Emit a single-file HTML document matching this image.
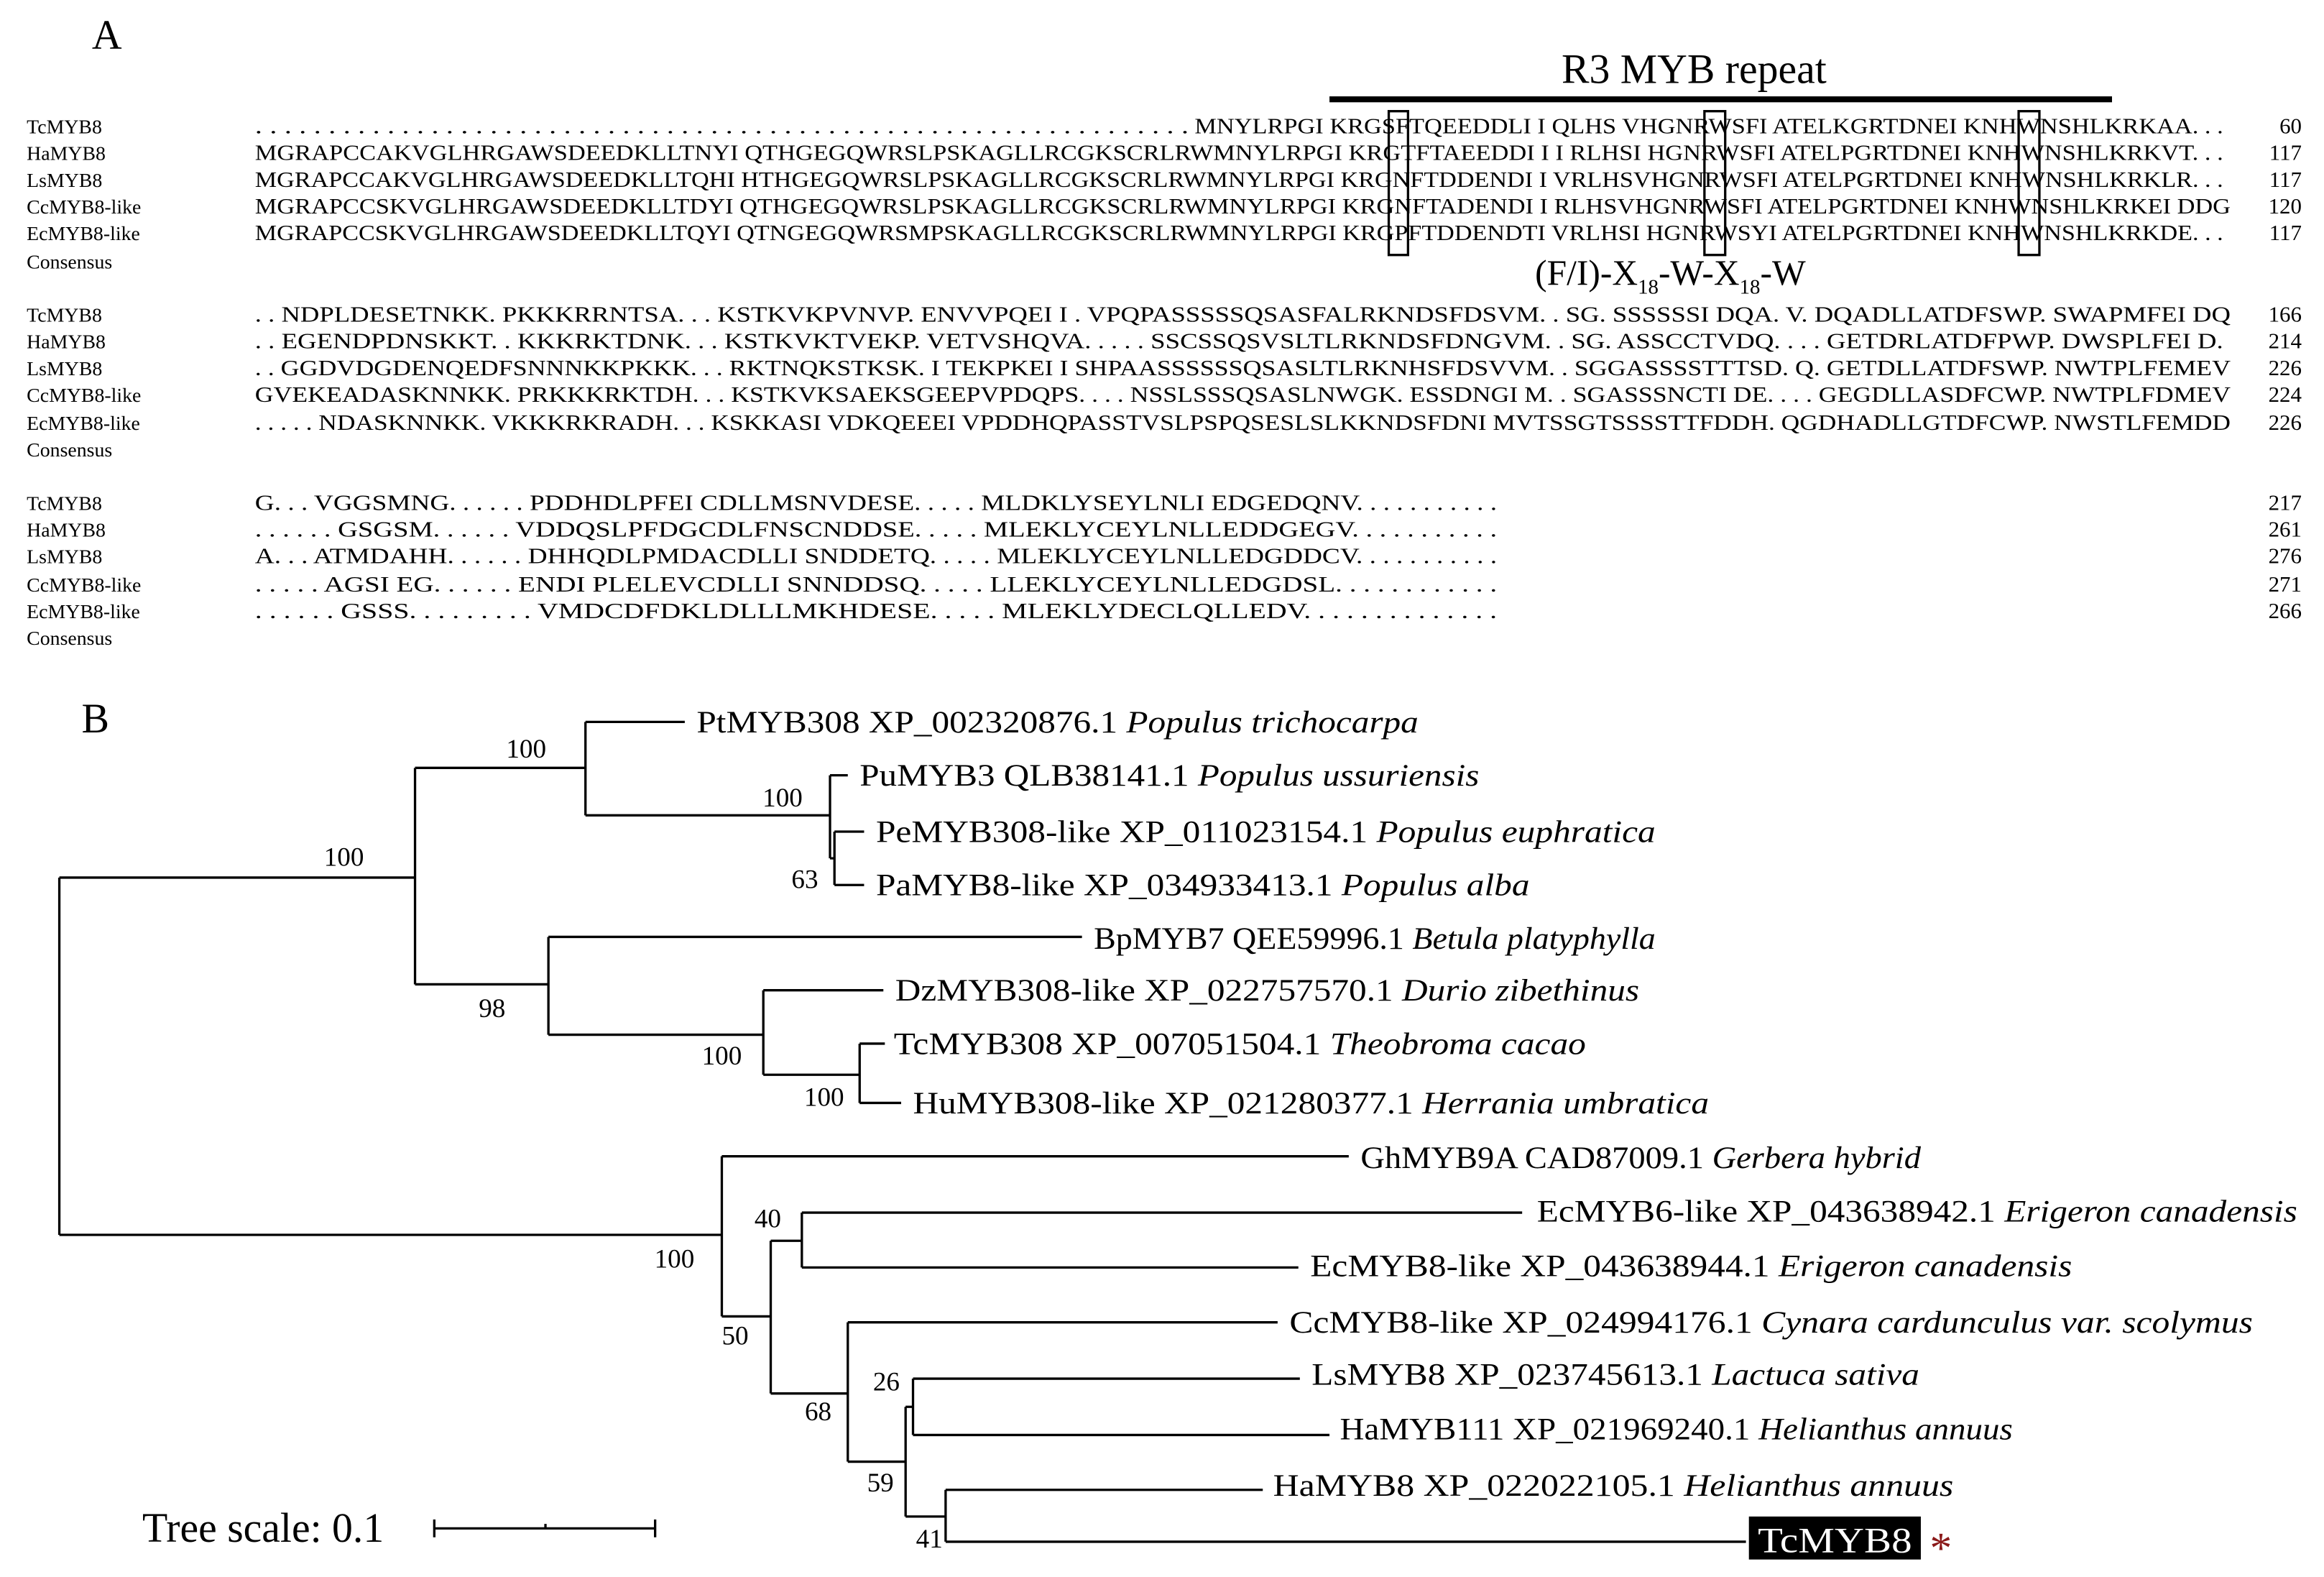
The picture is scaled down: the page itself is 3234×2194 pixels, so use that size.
<!DOCTYPE html>
<html><head><meta charset="utf-8"><style>
html,body{margin:0;padding:0;background:#fff;}
svg{display:block;}
text{font-family:"Liberation Serif",serif;fill:#000;}
.a{font-size:15px;}
.n{font-size:13.5px;}
.t{font-size:21px;}
.b{font-size:18px;}
</style></head><body>
<svg width="3234" height="2194" viewBox="0 0 1568 1063.8" xmlns="http://www.w3.org/2000/svg">
<text x="62" y="33" font-size="28">A</text>
<text x="1143" y="56" font-size="28" text-anchor="middle">R3 MYB repeat</text>
<rect x="897" y="65" width="528" height="4" fill="#000"/>
<g fill="none" stroke="#000" stroke-width="1.6">
<rect x="937" y="75" width="13" height="97"/>
<rect x="1150" y="75" width="14" height="97"/>
<rect x="1362" y="75" width="14" height="97"/>
</g>
<text x="1127" y="192" font-size="24" text-anchor="middle">(F/I)-X<tspan font-size="14" dy="6">18</tspan><tspan dy="-6">-W-X</tspan><tspan font-size="14" dy="6">18</tspan><tspan dy="-6">-W</tspan></text>

<g class="n">
<text x="18" y="90">TcMYB8</text><text x="18" y="108">HaMYB8</text><text x="18" y="126">LsMYB8</text><text x="18" y="144">CcMYB8-like</text><text x="18" y="162">EcMYB8-like</text><text x="18" y="181">Consensus</text>
<text x="18" y="217">TcMYB8</text><text x="18" y="235">HaMYB8</text><text x="18" y="253">LsMYB8</text><text x="18" y="271">CcMYB8-like</text><text x="18" y="290">EcMYB8-like</text><text x="18" y="308">Consensus</text>
<text x="18" y="344">TcMYB8</text><text x="18" y="362">HaMYB8</text><text x="18" y="380">LsMYB8</text><text x="18" y="399">CcMYB8-like</text><text x="18" y="417">EcMYB8-like</text><text x="18" y="435">Consensus</text>
</g>
<g class="a">
<text x="172" y="90" textLength="630" lengthAdjust="spacingAndGlyphs">. . . . . . . . . . . . . . . . . . . . . . . . . . . . . . . . . . . . . . . . . . . . . . . . . . . . . . . . . . . . . . . .</text>
<text x="806" y="90" textLength="694" lengthAdjust="spacingAndGlyphs">MNYLRPGI KRGSFTQEEDDLI I QLHS VHGNRWSFI ATELKGRTDNEI KNHWNSHLKRKAA. . .</text>
<text x="172" y="108" textLength="1328" lengthAdjust="spacingAndGlyphs">MGRAPCCAKVGLHRGAWSDEEDKLLTNYI QTHGEGQWRSLPSKAGLLRCGKSCRLRWMNYLRPGI KRGTFTAEEDDI I I RLHSI HGNRWSFI ATELPGRTDNEI KNHWNSHLKRKVT. . .</text>
<text x="172" y="126" textLength="1328" lengthAdjust="spacingAndGlyphs">MGRAPCCAKVGLHRGAWSDEEDKLLTQHI HTHGEGQWRSLPSKAGLLRCGKSCRLRWMNYLRPGI KRGNFTDDENDI I VRLHSVHGNRWSFI ATELPGRTDNEI KNHWNSHLKRKLR. . .</text>
<text x="172" y="144" textLength="1333" lengthAdjust="spacingAndGlyphs">MGRAPCCSKVGLHRGAWSDEEDKLLTDYI QTHGEGQWRSLPSKAGLLRCGKSCRLRWMNYLRPGI KRGNFTADENDI I RLHSVHGNRWSFI ATELPGRTDNEI KNHWNSHLKRKEI DDG</text>
<text x="172" y="162" textLength="1328" lengthAdjust="spacingAndGlyphs">MGRAPCCSKVGLHRGAWSDEEDKLLTQYI QTNGEGQWRSMPSKAGLLRCGKSCRLRWMNYLRPGI KRGPFTDDENDTI VRLHSI HGNRWSYI ATELPGRTDNEI KNHWNSHLKRKDE. . .</text>

<text x="172" y="217" textLength="1333" lengthAdjust="spacingAndGlyphs">. . NDPLDESETNKK. PKKKRRNTSA. . . KSTKVKPVNVP. ENVVPQEI I . VPQPASSSSSQSASFALRKNDSFDSVM. . SG. SSSSSSI DQA. V. DQADLLATDFSWP. SWAPMFEI DQ</text>
<text x="172" y="235" textLength="1328" lengthAdjust="spacingAndGlyphs">. . EGENDPDNSKKT. . KKKRKTDNK. . . KSTKVKTVEKP. VETVSHQVA. . . . . SSCSSQSVSLTLRKNDSFDNGVM. . SG. ASSCCTVDQ. . . . GETDRLATDFPWP. DWSPLFEI D.</text>
<text x="172" y="253" textLength="1333" lengthAdjust="spacingAndGlyphs">. . GGDVDGDENQEDFSNNNKKPKKK. . . RKTNQKSTKSK. I TEKPKEI I SHPAASSSSSSQSASLTLRKNHSFDSVVM. . SGGASSSSTTTSD. Q. GETDLLATDFSWP. NWTPLFEMEV</text>
<text x="172" y="271" textLength="1333" lengthAdjust="spacingAndGlyphs">GVEKEADASKNNKK. PRKKKRKTDH. . . KSTKVKSAEKSGEEPVPDQPS. . . . NSSLSSSQSASLNWGK. ESSDNGI M. . SGASSSNCTI DE. . . . GEGDLLASDFCWP. NWTPLFDMEV</text>
<text x="172" y="290" textLength="1333" lengthAdjust="spacingAndGlyphs">. . . . . NDASKNNKK. VKKKRKRADH. . . KSKKASI VDKQEEEI VPDDHQPASSTVSLPSPQSESLSLKKNDSFDNI MVTSSGTSSSSTTFDDH. QGDHADLLGTDFCWP. NWSTLFEMDD</text>

<text x="172" y="344" textLength="838" lengthAdjust="spacingAndGlyphs">G. . . VGGSMNG. . . . . . PDDHDLPFEI CDLLMSNVDESE. . . . . MLDKLYSEYLNLI EDGEDQNV. . . . . . . . . . .</text>
<text x="172" y="362" textLength="838" lengthAdjust="spacingAndGlyphs">. . . . . . GSGSM. . . . . . VDDQSLPFDGCDLFNSCNDDSE. . . . . MLEKLYCEYLNLLEDDGEGV. . . . . . . . . . .</text>
<text x="172" y="380" textLength="838" lengthAdjust="spacingAndGlyphs">A. . . ATMDAHH. . . . . . DHHQDLPMDACDLLI SNDDETQ. . . . . MLEKLYCEYLNLLEDGDDCV. . . . . . . . . . .</text>
<text x="172" y="399" textLength="838" lengthAdjust="spacingAndGlyphs">. . . . . AGSI EG. . . . . . ENDI PLELEVCDLLI SNNDDSQ. . . . . LLEKLYCEYLNLLEDGDSL. . . . . . . . . . . .</text>
<text x="172" y="417" textLength="838" lengthAdjust="spacingAndGlyphs">. . . . . . GSSS. . . . . . . . . VMDCDFDKLDLLLMKHDESE. . . . . MLEKLYDECLQLLEDV. . . . . . . . . . . . . .</text>
</g>
<g class="a" text-anchor="end">
<text x="1553" y="90">60</text><text x="1553" y="108">117</text><text x="1553" y="126">117</text><text x="1553" y="144">120</text><text x="1553" y="162">117</text>
<text x="1553" y="217">166</text><text x="1553" y="235">214</text><text x="1553" y="253">226</text><text x="1553" y="271">224</text><text x="1553" y="290">226</text>
<text x="1553" y="344">217</text><text x="1553" y="362">261</text><text x="1553" y="380">276</text><text x="1553" y="399">271</text><text x="1553" y="417">266</text>
</g>

<text x="55" y="494" font-size="28">B</text>
<path fill="none" stroke="#000" stroke-width="1.6" d="
M40 592V833 M40 592H280 M40 833H487
M280 518V664 M280 518H395 M280 664H370
M395 487V550 M395 487H462 M395 550H560
M560 523V579 M560 523H572 M560 579H563
M563 561V597 M563 561H583 M563 597H583
M370 632V698 M370 632H730 M370 698H515
M515 668V725 M515 668H596 M515 725H580
M580 704V744 M580 704H597 M580 744H608
M487 780V888 M487 780H910 M487 888H520
M520 837V940 M520 837H541 M520 940H572
M541 818V855 M541 818H1027 M541 855H876
M572 892V986 M572 892H862 M572 986H611
M611 949V1023 M611 949H616 M611 1023H638
M616 930V968 M616 930H877 M616 968H897
M638 1005V1040 M638 1005H852 M638 1040H1178
M293 1031H442 M293 1025V1037 M442 1025V1037 M368 1028V1031"/>

<g class="b">
<text x="232" y="584" text-anchor="middle">100</text>
<text x="355" y="511" text-anchor="middle">100</text>
<text x="528" y="544" text-anchor="middle">100</text>
<text x="543" y="599" text-anchor="middle">63</text>
<text x="332" y="686" text-anchor="middle">98</text>
<text x="487" y="718" text-anchor="middle">100</text>
<text x="556" y="746" text-anchor="middle">100</text>
<text x="455" y="855" text-anchor="middle">100</text>
<text x="518" y="828" text-anchor="middle">40</text>
<text x="496" y="907" text-anchor="middle">50</text>
<text x="552" y="958" text-anchor="middle">68</text>
<text x="598" y="938" text-anchor="middle">26</text>
<text x="594" y="1006" text-anchor="middle">59</text>
<text x="627" y="1044" text-anchor="middle">41</text>
</g>
<g class="t">
<text x="470" y="494" textLength="487" lengthAdjust="spacingAndGlyphs">PtMYB308 XP_002320876.1 <tspan font-style="italic">Populus trichocarpa</tspan></text>
<text x="580" y="530" textLength="418" lengthAdjust="spacingAndGlyphs">PuMYB3 QLB38141.1 <tspan font-style="italic">Populus ussuriensis</tspan></text>
<text x="591" y="568" textLength="526" lengthAdjust="spacingAndGlyphs">PeMYB308-like XP_011023154.1 <tspan font-style="italic">Populus euphratica</tspan></text>
<text x="591" y="604" textLength="441" lengthAdjust="spacingAndGlyphs">PaMYB8-like XP_034933413.1 <tspan font-style="italic">Populus alba</tspan></text>
<text x="738" y="640" textLength="379" lengthAdjust="spacingAndGlyphs">BpMYB7 QEE59996.1 <tspan font-style="italic">Betula platyphylla</tspan></text>
<text x="604" y="675" textLength="502" lengthAdjust="spacingAndGlyphs">DzMYB308-like XP_022757570.1 <tspan font-style="italic">Durio zibethinus</tspan></text>
<text x="603" y="711" textLength="467" lengthAdjust="spacingAndGlyphs">TcMYB308 XP_007051504.1 <tspan font-style="italic">Theobroma cacao</tspan></text>
<text x="616" y="751" textLength="537" lengthAdjust="spacingAndGlyphs">HuMYB308-like XP_021280377.1 <tspan font-style="italic">Herrania umbratica</tspan></text>
<text x="918" y="788" textLength="378" lengthAdjust="spacingAndGlyphs">GhMYB9A CAD87009.1 <tspan font-style="italic">Gerbera hybrid</tspan></text>
<text x="1037" y="824" textLength="513" lengthAdjust="spacingAndGlyphs">EcMYB6-like XP_043638942.1 <tspan font-style="italic">Erigeron canadensis</tspan></text>
<text x="884" y="861" textLength="514" lengthAdjust="spacingAndGlyphs">EcMYB8-like XP_043638944.1 <tspan font-style="italic">Erigeron canadensis</tspan></text>
<text x="870" y="899" textLength="650" lengthAdjust="spacingAndGlyphs">CcMYB8-like XP_024994176.1 <tspan font-style="italic">Cynara cardunculus var. scolymus</tspan></text>
<text x="885" y="934" textLength="410" lengthAdjust="spacingAndGlyphs">LsMYB8 XP_023745613.1 <tspan font-style="italic">Lactuca sativa</tspan></text>
<text x="904" y="971" textLength="454" lengthAdjust="spacingAndGlyphs">HaMYB111 XP_021969240.1 <tspan font-style="italic">Helianthus annuus</tspan></text>
<text x="859" y="1009" textLength="459" lengthAdjust="spacingAndGlyphs">HaMYB8 XP_022022105.1  <tspan font-style="italic">Helianthus annuus</tspan></text>
</g>
<rect x="1180" y="1023" width="116" height="29" fill="#000"/>
<text x="1238" y="1047" style="fill:#fff" text-anchor="middle" font-size="24" textLength="104" lengthAdjust="spacingAndGlyphs">TcMYB8</text>
<text x="1302" y="1054" font-size="30" style="fill:#8b1a1a">*</text>
<text x="96" y="1040" font-size="28">Tree scale: 0.1</text>
</svg>
</body></html>
